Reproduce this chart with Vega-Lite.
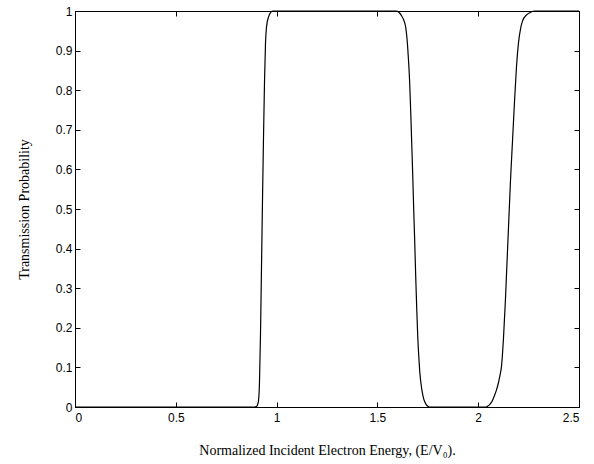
{
  "$schema": "https://vega.github.io/schema/vega-lite/v6.json",
  "autosize": "none",
  "width": 504,
  "height": 396,
  "padding": {"left": 75, "top": 11, "right": 15, "bottom": 57},
  "background": "white",
  "config": {
    "view": {"stroke": "black", "strokeWidth": 1},
    "axis": {
      "grid": false,
      "domainColor": "black",
      "tickColor": "black",
      "labelColor": "black",
      "labelFont": "Liberation Sans",
      "labelFontSize": 12,
      "titleFont": "Liberation Serif",
      "titleFontSize": 14,
      "titleFontWeight": "normal",
      "titleColor": "black",
      "tickSize": -5
    }
  },
  "data": {
    "values": [
      {"x": 0, "t": 0},
      {"x": 0.5, "t": 0},
      {"x": 0.89, "t": 0},
      {"x": 0.9, "t": 0.001},
      {"x": 0.905, "t": 0.005},
      {"x": 0.91, "t": 0.015},
      {"x": 0.915, "t": 0.06},
      {"x": 0.92, "t": 0.18},
      {"x": 0.925, "t": 0.35},
      {"x": 0.93, "t": 0.52},
      {"x": 0.935, "t": 0.68},
      {"x": 0.94, "t": 0.82},
      {"x": 0.945, "t": 0.92},
      {"x": 0.95, "t": 0.96},
      {"x": 0.96, "t": 0.985},
      {"x": 0.97, "t": 0.996},
      {"x": 0.98, "t": 1},
      {"x": 1.2, "t": 1},
      {"x": 1.59, "t": 1},
      {"x": 1.6, "t": 0.999},
      {"x": 1.61, "t": 0.995},
      {"x": 1.62, "t": 0.988},
      {"x": 1.63, "t": 0.978},
      {"x": 1.64, "t": 0.96},
      {"x": 1.645, "t": 0.94},
      {"x": 1.65, "t": 0.91},
      {"x": 1.655, "t": 0.87},
      {"x": 1.66, "t": 0.82},
      {"x": 1.665, "t": 0.75},
      {"x": 1.67, "t": 0.67},
      {"x": 1.675, "t": 0.59},
      {"x": 1.68, "t": 0.5},
      {"x": 1.685, "t": 0.42},
      {"x": 1.69, "t": 0.33},
      {"x": 1.695, "t": 0.25},
      {"x": 1.7, "t": 0.18},
      {"x": 1.705, "t": 0.13},
      {"x": 1.71, "t": 0.09},
      {"x": 1.72, "t": 0.045},
      {"x": 1.73, "t": 0.02},
      {"x": 1.74, "t": 0.008},
      {"x": 1.75, "t": 0.002},
      {"x": 1.76, "t": 0},
      {"x": 2.04, "t": 0},
      {"x": 2.05, "t": 0.003},
      {"x": 2.06, "t": 0.008},
      {"x": 2.07, "t": 0.016},
      {"x": 2.08, "t": 0.028},
      {"x": 2.09, "t": 0.042},
      {"x": 2.1, "t": 0.06},
      {"x": 2.105, "t": 0.072},
      {"x": 2.11, "t": 0.085},
      {"x": 2.115, "t": 0.1},
      {"x": 2.12, "t": 0.13},
      {"x": 2.125, "t": 0.17},
      {"x": 2.13, "t": 0.22},
      {"x": 2.135, "t": 0.27},
      {"x": 2.14, "t": 0.33},
      {"x": 2.145, "t": 0.39},
      {"x": 2.15, "t": 0.45},
      {"x": 2.16, "t": 0.57},
      {"x": 2.17, "t": 0.67},
      {"x": 2.18, "t": 0.77},
      {"x": 2.19, "t": 0.86},
      {"x": 2.2, "t": 0.92},
      {"x": 2.21, "t": 0.955},
      {"x": 2.22, "t": 0.975},
      {"x": 2.24, "t": 0.99},
      {"x": 2.26, "t": 0.997},
      {"x": 2.28, "t": 1},
      {"x": 2.5, "t": 1}
    ]
  },
  "layer": [
    {
      "mark": {"type": "line", "color": "black", "strokeWidth": 1.2, "interpolate": "monotone"},
      "encoding": {
        "x": {
          "field": "x", "type": "quantitative",
          "scale": {"domain": [0, 2.5], "nice": false, "zero": false},
          "axis": {"values": [0, 0.5, 1, 1.5, 2, 2.5], "format": "~g", "labelPadding": 10, "title": "Normalized Incident Electron Energy, (E/V₀).", "titlePadding": 20}
        },
        "y": {
          "field": "t", "type": "quantitative",
          "scale": {"domain": [0, 1], "nice": false},
          "axis": {"values": [0, 0.1, 0.2, 0.3, 0.4, 0.5, 0.6, 0.7, 0.8, 0.9, 1], "format": "~g", "labelPadding": 8, "title": "Transmission Probability", "titlePadding": 24}
        }
      }
    },
    {
      "mark": {"type": "line", "opacity": 0},
      "encoding": {
        "x": {
          "field": "x", "type": "quantitative",
          "scale": {"domain": [0, 2.5], "nice": false, "zero": false},
          "axis": {"orient": "top", "values": [0, 0.5, 1, 1.5, 2, 2.5], "labels": false, "title": null}
        },
        "y": {
          "field": "t", "type": "quantitative",
          "scale": {"domain": [0, 1], "nice": false},
          "axis": {"orient": "right", "values": [0, 0.1, 0.2, 0.3, 0.4, 0.5, 0.6, 0.7, 0.8, 0.9, 1], "labels": false, "title": null}
        }
      }
    }
  ],
  "resolve": {"axis": {"x": "independent", "y": "independent"}}
}
